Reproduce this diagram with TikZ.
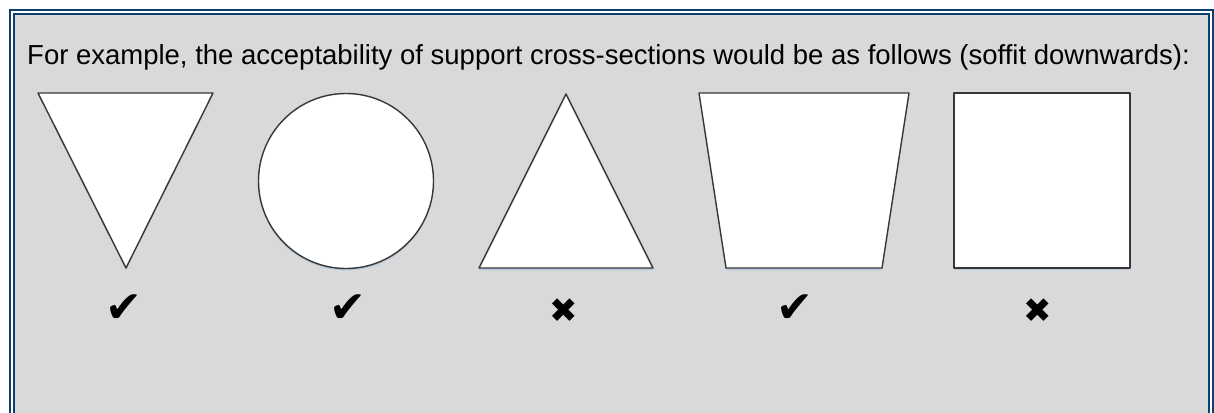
\documentclass[tikz,border=0pt]{standalone}
\usepackage{fontspec}
\setmainfont{Liberation Sans}
\newfontfamily\symfont{DejaVu Sans}
\definecolor{frameblue}{RGB}{12,62,112}
\definecolor{panelgrey}{RGB}{217,217,217}
\definecolor{shapeline}{RGB}{55,55,55}
\definecolor{shadowblue}{RGB}{180,200,222}
\tikzset{
  section/.style={draw=shapeline, fill=white, line width=1.4pt, line join=round},
  secshadow/.style={fill=shadowblue, draw=none},
  okmark/.style={anchor=base, inner sep=0pt, font=\symfont\fontsize{44}{44}\selectfont},
  nomark/.style={anchor=base, inner sep=0pt, font=\symfont\fontsize{34}{34}\selectfont},
  framebar/.style={draw=frameblue, line width=2pt}
}
\begin{document}
\begin{tikzpicture}[x=1pt,y=-1pt]
        \clip (0,0) rectangle (1214,412);
        \fill[white] (0,0) rectangle (1214,412);
        \fill[panelgrey] (14,14) rectangle (1208.5,440);
        \path[framebar] (10,10) rectangle (1213,440);
        \path[framebar] (14,14) rectangle (1208.5,440);

        \node[anchor=base west, inner sep=0pt, font=\fontsize{27.5}{27.5}\selectfont] (intro) at (27,64)
          {For example, the acceptability of support cross-sections would be as follows (soffit downwards):};

        \path[secshadow] (38,95) -- (213,95) -- (126,270) -- cycle;
        \path[section] (38,93) -- (213,93) -- (126,268) -- cycle;
        \path[secshadow] (346,183) circle[radius=87.5pt];
        \path[section] (346,181) circle[radius=87.5pt];
        \path[secshadow] (566,96) -- (653,270) -- (479,270) -- cycle;
        \path[section] (566,94) -- (653,268) -- (479,268) -- cycle;
        \path[secshadow] (699,95) -- (909,95) -- (882,270) -- (726,270) -- cycle;
        \path[section] (699,93) -- (909,93) -- (882,268) -- (726,268) -- cycle;
        \path[secshadow] (954,95) rectangle (1130,270);
        \path[section] (954,93) rectangle (1130,268);

        \node[okmark] (m1) at (124,322) {✔};
        \node[okmark] (m2) at (348,322) {✔};
        \node[nomark] (m3) at (564,322) {✖};
        \node[okmark] (m4) at (795,322) {✔};
        \node[nomark] (m5) at (1038,322) {✖};
\end{tikzpicture}
\end{document}
